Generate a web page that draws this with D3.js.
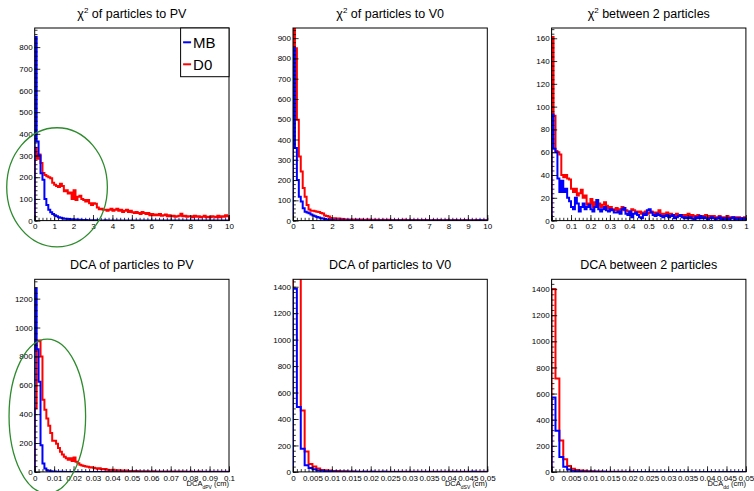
<!DOCTYPE html>
<html>
<head>
<meta charset="utf-8">
<script src="https://cdn.jsdelivr.net/npm/d3@7"></script>
<style>
  body { margin: 0; background: #fff; }
  text { font-family: "Liberation Sans", Arial, sans-serif; }
</style>
</head>
<body>
<div id="chart"></div>
<script>
// bin contents (MB = blue, D0 = red)
const chiPvMB = [846, 365, 300, 218, 188, 100, 72, 50, 38, 30,
  25, 20, 16, 13, 11, 9, 8, 7, 6, 6,
  5, 5, 4, 4, 3, 3, 3, 2, 2, 2,
  2, 1, 2, 1, 1, 1, 2, 1, 1, 1,
  1, 0, 1, 1, 0, 1, 1, 0, 1, 0,
  1, 0, 1, 0, 0, 1, 0, 1, 0, 0,
  1, 0, 0, 1, 0, 0, 0, 1, 0, 0,
  0, 1, 0, 0, 0, 0, 1, 0, 0, 0,
  0, 0, 1, 0, 0, 0, 0, 0, 1, 0,
  0, 0, 0, 0, 0, 1, 0, 0, 0, 0];
const chiPvD0 = [335, 285, 305, 265, 220, 210, 205, 200, 195, 175,
  165, 160, 155, 170, 160, 135, 140, 125, 130, 100,
  140, 95, 110, 115, 100, 95, 88, 95, 80, 72,
  80, 78, 60, 52, 55, 50, 50, 45, 50, 55,
  45, 50, 55, 45, 50, 40, 45, 50, 40, 45,
  38, 35, 40, 35, 30, 40, 35, 30, 35, 25,
  30, 25, 28, 25, 30, 22, 25, 28, 20, 25,
  20, 22, 18, 20, 22, 32, 20, 22, 18, 20,
  20, 15, 22, 18, 20, 15, 18, 22, 15, 18,
  15, 20, 18, 15, 22, 15, 20, 18, 25, 20];

const chiV0MB = [850, 358, 200, 118, 94, 61, 44, 40, 36, 30,
  25, 22, 18, 15, 12, 10, 8, 6, 4, 3,
  3, 2, 2, 2, 1, 2, 1, 1, 2, 1,
  1, 1, 1, 2, 1, 1, 1, 1, 1, 1,
  1, 1, 1, 1, 1, 1, 1, 1, 1, 1,
  1, 1, 1, 1, 1, 1, 1, 1, 1, 1,
  1, 1, 1, 1, 1, 1, 1, 1, 1, 1,
  1, 1, 1, 1, 1, 1, 1, 1, 1, 1,
  1, 1, 1, 1, 1, 1, 1, 1, 1, 1,
  1, 1, 1, 1, 1, 1, 2, 1, 1, 1];
const chiV0D0 = [945, 850, 497, 316, 242, 161, 118, 77, 55, 49,
  48, 46, 44, 42, 37, 35, 25, 23, 20, 13,
  12, 11, 10, 10, 9, 8, 7, 6, 6, 6,
  5, 5, 6, 5, 4, 5, 4, 4, 5, 4,
  3, 4, 3, 4, 3, 3, 4, 3, 3, 4,
  3, 3, 2, 3, 3, 2, 3, 4, 2, 3,
  3, 2, 3, 2, 3, 2, 2, 3, 2, 3,
  2, 2, 3, 2, 2, 3, 2, 2, 2, 3,
  2, 2, 2, 3, 2, 2, 2, 2, 3, 2,
  2, 2, 2, 2, 3, 2, 2, 2, 2, 2];

const chiPairMB = [93, 63, 60, 37, 25, 35, 25, 28, 20, 17,
  12, 10, 20, 15, 8, 12, 15, 10, 12, 14,
  10, 8, 12, 18, 10, 8, 10, 12, 9, 8,
  10, 9, 7, 7, 8, 6, 10, 11, 6, 5,
  8, 3, 6, 7, 5, 3, 2, 6, 5, 9,
  10, 7, 5, 4, 6, 5, 4, 3, 4, 5,
  3, 4, 5, 2, 3, 4, 5, 3, 2, 3,
  2, 3, 2, 1, 3, 2, 4, 2, 3, 2,
  1, 2, 3, 2, 1, 2, 3, 1, 2, 1,
  2, 1, 2, 3, 1, 2, 1, 2, 1, 2];
const chiPairD0 = [161, 92, 61, 60, 58, 40, 38, 40, 37, 36,
  28, 25, 28, 22, 24, 27, 20, 22, 14, 15,
  19, 12, 16, 14, 15, 12, 14, 16, 13, 11,
  12, 10, 9, 11, 8, 10, 12, 9, 9, 8,
  7, 10, 9, 8, 7, 8, 6, 7, 8, 6,
  7, 8, 7, 6, 7, 9, 6, 5, 6, 7,
  5, 6, 5, 4, 6, 5, 4, 5, 4, 5,
  6, 4, 5, 4, 3, 5, 4, 3, 4, 5,
  3, 4, 3, 4, 3, 2, 4, 3, 2, 3,
  4, 2, 3, 2, 3, 2, 3, 2, 2, 3];

const dcaPvMB = [1270, 850, 625, 185, 58, 23, 12, 8, 5, 3,
  2, 1, 1, 0, 1, 0, 0, 0, 0, 0,
  0, 0, 0, 0, 0, 0, 0, 0, 0, 0,
  0, 0, 0, 0, 0, 0, 0, 0, 0, 0,
  0, 0, 0, 0, 0, 0, 0, 0, 0, 0,
  0, 0, 0, 0, 0, 0, 0, 0, 0, 0,
  0, 0, 0, 0, 0, 0, 0, 0, 0, 0,
  0, 0, 0, 0, 0, 0, 0, 0, 0, 0,
  0, 0, 0, 0, 0, 0, 0, 0, 0, 0,
  0, 0, 0, 0, 0, 0, 0, 0, 0, 0];
const dcaPvD0 = [440, 905, 910, 800, 500, 430, 370, 320, 270, 215,
  215, 195, 165, 140, 120, 105, 95, 85, 95, 75,
  100, 70, 60, 50, 45, 40, 38, 35, 30, 32,
  28, 25, 22, 25, 20, 18, 20, 15, 14, 12,
  15, 12, 10, 12, 9, 10, 8, 9, 7, 6,
  7, 5, 6, 5, 4, 5, 4, 3, 4, 3,
  3, 4, 2, 3, 2, 3, 2, 2, 3, 2,
  2, 1, 2, 2, 1, 2, 1, 2, 1, 1,
  2, 1, 1, 1, 2, 1, 1, 0, 1, 1,
  1, 0, 1, 1, 0, 1, 1, 0, 1, 1];

const dcaV0MB = [1385, 490, 175, 50, 30, 20, 10, 8, 5, 4,
  3, 2, 2, 1, 1, 1, 1, 0, 1, 0,
  1, 0, 0, 1, 0, 0, 0, 0, 0, 0,
  0, 0, 0, 0, 0, 0, 0, 0, 0, 0,
  0, 0, 0, 0, 0, 0, 1, 0, 0, 0];
const dcaV0D0 = [2500, 1600, 465, 155, 60, 40, 25, 15, 12, 10,
  7, 6, 5, 4, 3, 3, 2, 2, 2, 1,
  2, 1, 1, 1, 2, 1, 1, 1, 1, 1,
  1, 1, 1, 1, 1, 1, 1, 1, 1, 1,
  1, 1, 1, 1, 1, 1, 1, 1, 1, 1];

const dcaPairMB = [570, 315, 115, 40, 18, 8, 5, 3, 2, 1,
  1, 1, 0, 1, 0, 0, 0, 0, 0, 0,
  0, 0, 0, 0, 0, 0, 0, 0, 0, 0,
  0, 0, 0, 0, 0, 0, 0, 0, 0, 0,
  0, 0, 0, 0, 0, 0, 0, 0, 0, 0];
const dcaPairD0 = [1400, 715, 240, 97, 45, 25, 15, 10, 8, 5,
  5, 3, 3, 2, 2, 1, 1, 1, 1, 0,
  1, 0, 0, 0, 0, 0, 0, 0, 0, 0,
  0, 0, 0, 0, 0, 0, 0, 0, 0, 0,
  0, 0, 0, 0, 0, 0, 0, 0, 0, 0];

// axis tick labels
const xTicksChi = ['0', '1', '2', '3', '4', '5', '6', '7', '8', '9', '10'];
const xTicksPair = ['0', '0.1', '0.2', '0.3', '0.4', '0.5', '0.6', '0.7', '0.8', '0.9', '1'];
const xTicksDcaPv = ['0', '0.01', '0.02', '0.03', '0.04', '0.05', '0.06', '0.07', '0.08', '0.09', '0.1'];
const xTicksDca = ['0', '0.005', '0.01', '0.015', '0.02', '0.025', '0.03', '0.035', '0.04', '0.045', '0.05'];
const yTicksChiPv = ['0', '100', '200', '300', '400', '500', '600', '700', '800'];
const yTicksChiV0 = ['0', '100', '200', '300', '400', '500', '600', '700', '800', '900'];
const yTicksChiPair = ['0', '20', '40', '60', '80', '100', '120', '140', '160'];
const yTicksDcaPv = ['0', '200', '400', '600', '800', '1000', '1200'];
const yTicksDca = ['0', '200', '400', '600', '800', '1000', '1200', '1400'];
const legendLabels = ['MB', 'D0'];

const width = 754;
const height = 491;
const colLeft = [34.7, 293, 551.6];
const rowTop = [28, 279.3];
const frameW = 194.3;
const frameH = 192.6;
const colors = { MB: '#0000ff', D0: '#ff0000' };

const panels = [
  { title: [['χ'], ['2', 'sup'], [' of particles to PV']], col: 0, row: 0, xMax: 10,
    mb: chiPvMB, d0: chiPvD0, yMax: 888, xTicks: xTicksChi, yTicks: yTicksChiPv,
    xMinor: 0.2, yMinor: 20, legend: true, ellipse: { cx: 1.15, cy: 153.6, rx: 2.59, ry: 274.5 } },
  { title: [['χ'], ['2', 'sup'], [' of particles to V0']], col: 1, row: 0, xMax: 10,
    mb: chiV0MB, d0: chiV0D0, yMax: 950, xTicks: xTicksChi, yTicks: yTicksChiV0,
    xMinor: 0.2, yMinor: 20 },
  { title: [['χ'], ['2', 'sup'], [' between 2 particles']], col: 2, row: 0, xMax: 1,
    mb: chiPairMB, d0: chiPairD0, yMax: 169, xTicks: xTicksPair, yTicks: yTicksChiPair,
    xMinor: 0.02, yMinor: 4 },
  { title: [['DCA of particles to PV']], col: 0, row: 1, xMax: 0.1,
    mb: dcaPvMB, d0: dcaPvD0, yMax: 1334, xTicks: xTicksDcaPv, yTicks: yTicksDcaPv,
    xMinor: 0.002, yMinor: 40, xTitle: 'dPV', ellipse: { cx: 0.0065, cy: 386, rx: 0.0197, ry: 534 } },
  { title: [['DCA of particles to V0']], col: 1, row: 1, xMax: 0.05,
    mb: dcaV0MB, d0: dcaV0D0, yMax: 1456, xTicks: xTicksDca, yTicks: yTicksDca,
    xMinor: 0.001, yMinor: 40, xTitle: 'dSV' },
  { title: [['DCA between 2 particles']], col: 2, row: 1, xMax: 0.05,
    mb: dcaPairMB, d0: dcaPairD0, yMax: 1475, xTicks: xTicksDca, yTicks: yTicksDca,
    xMinor: 0.001, yMinor: 40, xTitle: 'dd' }
];

const svg = d3.select('#chart')
  .append('svg')
  .attr('width', width)
  .attr('height', height);

svg.append('rect').attr('width', width).attr('height', height).attr('fill', '#fff');

// step outline like ROOT's HIST option
function stepPoints(values, xMax){
  let w = xMax / values.length;
  let pts = [[0, 0]];
  values.forEach((v, i) => {
    pts.push([i * w, v]);
    pts.push([(i + 1) * w, v]);
  });
  pts.push([xMax, 0]);
  return pts;
}

panels.forEach((p, idx) => {
  let g = svg.append('g')
    .attr('transform', `translate(${colLeft[p.col]}, ${rowTop[p.row]})`);

  let x = d3.scaleLinear().domain([0, p.xMax]).range([0, frameW]);
  let y = d3.scaleLinear().domain([0, p.yMax]).range([frameH, 0]);

  let clipId = `clip${idx}`;
  g.append('clipPath').attr('id', clipId)
    .append('rect').attr('width', frameW).attr('height', frameH);

  let line = d3.line().x((d) => x(d[0])).y((d) => y(d[1]));

  // D0 first, MB over it
  [['D0', p.d0], ['MB', p.mb]].forEach(([name, vals]) => {
    g.append('path')
      .attr('clip-path', `url(#${clipId})`)
      .attr('d', line(stepPoints(vals, p.xMax)))
      .attr('fill', 'none')
      .attr('stroke', colors[name])
      .attr('stroke-width', 2)
      .attr('stroke-linejoin', 'miter');
  });

  g.append('rect')
    .attr('width', frameW).attr('height', frameH)
    .attr('fill', 'none').attr('stroke', '#000').attr('stroke-width', 1);

  // minor ticks
  let xMinorVals = d3.range(0, Math.round(p.xMax / p.xMinor) + 1).map((i) => i * p.xMinor);
  let yMinorVals = d3.range(0, Math.floor(p.yMax / p.yMinor) + 1).map((i) => i * p.yMinor);

  g.append('g').attr('transform', `translate(0, ${frameH})`)
    .call(d3.axisBottom(x).tickValues(xMinorVals).tickSize(-2.8).tickFormat(''))
    .call((a) => a.select('.domain').remove());
  g.append('g')
    .call(d3.axisLeft(y).tickValues(yMinorVals).tickSize(-2.8).tickFormat(''))
    .call((a) => a.select('.domain').remove());

  // major ticks with labels
  let xAxis = g.append('g').attr('transform', `translate(0, ${frameH})`)
    .call(d3.axisBottom(x).tickValues(p.xTicks.map(Number)).tickSize(-5.6).tickPadding(3)
      .tickFormat((d, i) => p.xTicks[i]));
  let yAxis = g.append('g')
    .call(d3.axisLeft(y).tickValues(p.yTicks.map(Number)).tickSize(-5.6).tickPadding(2)
      .tickFormat((d, i) => p.yTicks[i]));
  [xAxis, yAxis].forEach((a) => {
    a.select('.domain').remove();
    a.selectAll('text')
      .attr('font-family', '"Liberation Sans", Arial, sans-serif')
      .attr('font-size', 8).attr('fill', '#000');
  });
  g.selectAll('.tick line').attr('stroke', '#000').attr('stroke-width', 0.8);

  // title
  let t = svg.append('text')
    .attr('x', colLeft[p.col] + frameW / 2)
    .attr('y', rowTop[p.row] - 10.5)
    .attr('text-anchor', 'middle')
    .attr('font-size', 12.5)
    .attr('fill', '#000');
  p.title.forEach(([s, kind], i) => {
    let ts = t.append('tspan').text(s);
    if (kind === 'sup') ts.attr('font-size', 8).attr('dy', -5);
    else if (i > 0 && p.title[i - 1][1] === 'sup') ts.attr('dy', 5);
  });

  // x axis title
  if (p.xTitle) {
    let xt = g.append('text')
      .attr('x', frameW)
      .attr('y', frameH + 14.5)
      .attr('text-anchor', 'end')
      .attr('font-size', 7.5)
      .attr('fill', '#000');
    xt.append('tspan').text('DCA');
    xt.append('tspan').text(p.xTitle).attr('font-size', 5).attr('dy', 2.2);
    xt.append('tspan').text(' (cm)').attr('dy', -2.2);
  }

  // hand drawn ellipse annotation
  if (p.ellipse) {
    let e = p.ellipse;
    g.append('ellipse')
      .attr('cx', x(e.cx)).attr('cy', y(e.cy))
      .attr('rx', x(e.rx) - x(0)).attr('ry', y(0) - y(e.ry))
      .attr('fill', 'none')
      .attr('stroke', '#2e8b2e')
      .attr('stroke-width', 1.3);
  }

  // legend
  if (p.legend) {
    let lg = g.append('g').attr('transform', `translate(${frameW - 48.4}, 0)`);
    lg.append('rect').attr('width', 48.4).attr('height', 48.7)
      .attr('fill', '#fff').attr('stroke', '#000').attr('stroke-width', 1);
    legendLabels.forEach((name, i) => {
      let yy = 14.3 + i * 22;
      lg.append('line')
        .attr('x1', 2.5).attr('x2', 10.5).attr('y1', yy).attr('y2', yy)
        .attr('stroke', colors[name]).attr('stroke-width', 2);
      lg.append('text')
        .attr('x', 12.5).attr('y', yy + 5.3)
        .attr('font-size', 15).attr('fill', '#000')
        .text(name);
    });
  }
});
</script>
</body>
</html>
